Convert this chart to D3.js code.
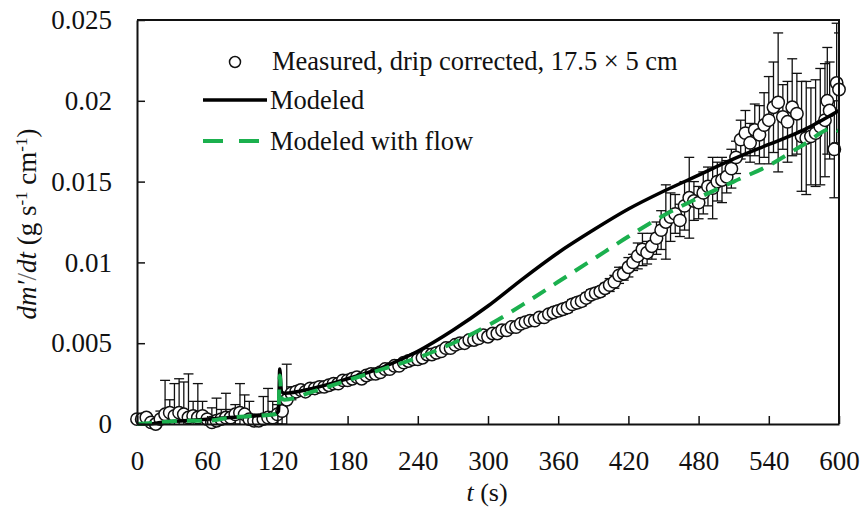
<!doctype html>
<html>
<head>
<style>
  body { margin: 0; background: #fff; }
  text { font-family: "Liberation Serif", "Times New Roman", serif; fill: #111; }
</style>
<script src="https://d3js.org/d3.v7.min.js"></script>
</head>
<body>
<svg width="866" height="508"></svg>
<script>
// measured points: time (s), dm'/dt, error bar half-height
var measTime = [0,4,8,12,16,20,24,28,32,36,40,44,48,52,56,60,64,68,72,76,80,84,88,92,96,100,104,108,112,116,120,124,128,132,136,140,144,148,152,156,160,164,168,172,176,180,184,188,192,196,200,204,208,212,216,220,224,228,232,236,240,244,248,252,256,260,264,268,272,276,280,284,288,292,296,300,304,308,312,316,320,324,328,332,336,340,344,348,352,356,360,364,368,372,376,380,384,388,392,396,400,404,408,412,416,420,424,428,432,436,440,444,448,452,456,460,464,468,472,476,480,484,488,492,496,500,504,508,512,516,520,524,528,532,536,540,544,548,552,556,560,564,568,572,576,580,584,588,590,592,596,598,600];
var measValue = [0.0003,0.0003,0.0004,0.0001,0.0000,0.0003,0.0006,0.0007,0.0005,0.0007,0.0006,0.0004,0.0005,0.0004,0.0005,0.0003,0.0001,0.0002,0.0003,0.0004,0.0004,0.0006,0.0007,0.0006,0.0003,0.0002,0.0002,0.0003,0.0004,0.0004,0.0006,0.0008,0.0015,0.0019,0.0020,0.0021,0.0020,0.0022,0.0022,0.0023,0.0023,0.0024,0.0025,0.0025,0.0027,0.0027,0.0028,0.0029,0.0028,0.0030,0.0031,0.0031,0.0032,0.0034,0.0034,0.0036,0.0036,0.0038,0.0039,0.0040,0.0040,0.0041,0.0043,0.0043,0.0044,0.0045,0.0047,0.0047,0.0049,0.0050,0.0050,0.0052,0.0052,0.0053,0.0055,0.0054,0.0056,0.0056,0.0058,0.0058,0.0060,0.0060,0.0062,0.0063,0.0064,0.0064,0.0066,0.0066,0.0068,0.0069,0.0070,0.0071,0.0072,0.0074,0.0075,0.0076,0.0078,0.0080,0.0081,0.0082,0.0084,0.0086,0.0088,0.0092,0.0093,0.0097,0.0100,0.0104,0.0108,0.0106,0.0110,0.0115,0.0120,0.0125,0.0128,0.0130,0.0126,0.0135,0.0140,0.0138,0.0137,0.0143,0.0147,0.0146,0.0150,0.0151,0.0153,0.0158,0.0165,0.0176,0.0180,0.0174,0.0182,0.0179,0.0185,0.0188,0.0196,0.0199,0.0190,0.0187,0.0196,0.0192,0.0178,0.0177,0.0178,0.0180,0.0184,0.0188,0.0200,0.0194,0.0170,0.0211,0.0207];
var measError = [0,0,0,0,0,0.0005,0.0021,0.0008,0.0020,0.0021,0.0020,0.0027,0.0009,0.0021,0.0009,0.0002,0.0009,0.0014,0.0006,0.0015,0.0005,0.0006,0.0018,0.0012,0.0011,0.0004,0.0004,0.0014,0.0018,0.0010,0.0006,0.0008,0.0022,0.0004,0.0003,0.0003,0.0002,0.0002,0.0002,0.0002,0.0002,0.0002,0.0002,0.0002,0.0002,0.0002,0.0002,0.0002,0.0002,0.0002,0.0002,0.0002,0.0002,0.0002,0.0002,0.0002,0.0002,0.0002,0.0002,0.0002,0.0002,0.0002,0.0002,0.0002,0.0002,0.0002,0.0002,0.0002,0.0002,0.0002,0.0002,0.0002,0.0002,0.0002,0.0002,0.0002,0.0002,0.0002,0.0002,0.0002,0.0002,0.0002,0.0002,0.0002,0.0002,0.0002,0.0002,0.0002,0.0002,0.0002,0.0003,0.0003,0.0003,0.0003,0.0003,0.0003,0.0003,0.0003,0.0003,0.0003,0.0003,0.0004,0.0004,0.0005,0.0004,0.0006,0.0005,0.0008,0.0010,0.0007,0.0008,0.0010,0.0012,0.0023,0.0015,0.0012,0.0010,0.0015,0.0025,0.0012,0.0010,0.0013,0.0012,0.0019,0.0012,0.0014,0.0010,0.0012,0.0010,0.0012,0.0014,0.0012,0.0016,0.0018,0.0020,0.0027,0.0028,0.0043,0.0020,0.0025,0.0030,0.0025,0.0034,0.0035,0.0030,0.0033,0.0036,0.0035,0.0033,0.0030,0.0030,0.0037,0.0035];

// modeled curves
var modelTime = [0,10,20,40,60,80,100,118,121,122,123.5,126,150,180,210,240,270,300,330,360,390,420,450,480,510,540,570,600];
var modeled   = [0.0000,0.0000,0.0001,0.0002,0.0003,0.0004,0.0005,0.0006,0.0008,0.0034,0.0020,0.0019,0.0022,0.0028,0.0035,0.0045,0.0058,0.0073,0.0090,0.0106,0.0120,0.0133,0.0144,0.0154,0.0164,0.0173,0.0182,0.0194];
var flowTime  = [0,20,40,60,80,100,118,121,122,123.5,126,150,180,210,240,270,300,330,360,390,420,450,480,510,540,570,595,600];
var modeledFlow = [0.0000,0.0001,0.0002,0.0002,0.0004,0.0005,0.0006,0.0008,0.0030,0.0016,0.0015,0.0020,0.0027,0.0034,0.0041,0.0050,0.0061,0.0074,0.0088,0.0102,0.0116,0.0129,0.0140,0.0150,0.0160,0.0173,0.0183,0.0181];

var xTicks = [0,60,120,180,240,300,360,420,480,540,600];
var yTicks = [0,0.005,0.01,0.015,0.02,0.025];

var svg = d3.select("svg");
var pl = 137, pr = 839, pt = 20, pb = 424;
var green = "#1bb04e";

var x = d3.scaleLinear().domain([0, 600]).range([pl, pr]);
var y = d3.scaleLinear().domain([0, 0.025]).range([pb, pt]);

svg.append("clipPath").attr("id", "plot")
   .append("rect").attr("x", pl).attr("y", pt)
   .attr("width", pr - pl).attr("height", pb - pt);

var meas = measTime.map(function(t, i) { return {t: t, v: measValue[i], e: measError[i]}; });

// error bars
var eb = svg.append("g").attr("clip-path", "url(#plot)")
   .attr("stroke", "#111").attr("stroke-width", 1.3);
meas.filter(function(d) { return d.e > 0; }).forEach(function(d) {
    var cx = x(d.t), y1 = y(d.v + d.e), y2 = y(d.v - d.e);
    eb.append("line").attr("x1", cx).attr("x2", cx).attr("y1", y1).attr("y2", y2);
    eb.append("line").attr("x1", cx - 5).attr("x2", cx + 5).attr("y1", y1).attr("y2", y1);
    eb.append("line").attr("x1", cx - 5).attr("x2", cx + 5).attr("y1", y2).attr("y2", y2);
});

svg.append("g").selectAll("circle")
   .data(meas).enter().append("circle")
   .attr("cx", function(d) { return x(d.t); })
   .attr("cy", function(d) { return y(d.v); })
   .attr("r", 6.2)
   .attr("fill", "#fff").attr("stroke", "#111").attr("stroke-width", 1.5);

var line = d3.line()
   .x(function(d) { return x(d[0]); })
   .y(function(d) { return y(d[1]); })
   .curve(d3.curveMonotoneX);

svg.append("path")
   .datum(modelTime.map(function(t, i) { return [t, modeled[i]]; }))
   .attr("d", line).attr("fill", "none")
   .attr("stroke", "#000").attr("stroke-width", 3.5);

svg.append("path")
   .datum(flowTime.map(function(t, i) { return [t, modeledFlow[i]]; }))
   .attr("d", line).attr("fill", "none")
   .attr("stroke", green).attr("stroke-width", 4)
   .attr("stroke-dasharray", "15,10");

// axes
var xAxis = svg.append("g").attr("transform", "translate(0," + pb + ")")
   .call(d3.axisBottom(x).tickValues(xTicks).tickSizeInner(-8).tickSizeOuter(0).tickPadding(27)
   .tickFormat(d3.format("d")));
var yAxis = svg.append("g").attr("transform", "translate(" + pl + ",0)")
   .call(d3.axisLeft(y).tickValues(yTicks).tickSizeInner(-8).tickSizeOuter(0).tickPadding(25)
   .tickFormat(function(d) { return d === 0 ? "0" : String(+d.toFixed(3)); }));
[xAxis, yAxis].forEach(function(a) {
    a.selectAll("text").style("font-size", "27px").attr("fill", "#222");
    a.selectAll("line").attr("stroke", "#111").attr("stroke-width", 1.5);
    a.select(".domain").attr("stroke", "#111").attr("stroke-width", 2);
});
svg.append("path")
   .attr("d", "M" + pl + "," + pt + "H" + pr + "V" + pb)
   .attr("fill", "none").attr("stroke", "#111").attr("stroke-width", 2);

// legend
var lg = svg.append("g").style("font-size", "26.5px");
lg.append("circle").attr("cx", 235).attr("cy", 62).attr("r", 5.5)
  .attr("fill", "#fff").attr("stroke", "#111").attr("stroke-width", 1.5);
lg.append("text").attr("x", 272).attr("y", 70).text("Measured, drip corrected, 17.5 \u00d7 5 cm");
lg.append("line").attr("x1", 203).attr("x2", 267).attr("y1", 100).attr("y2", 100)
  .attr("stroke", "#000").attr("stroke-width", 3.5);
lg.append("text").attr("x", 270).attr("y", 109).text("Modeled");
lg.append("line").attr("x1", 203).attr("x2", 260).attr("y1", 141).attr("y2", 141)
  .attr("stroke", green).attr("stroke-width", 4).attr("stroke-dasharray", "20,16");
lg.append("text").attr("x", 270).attr("y", 150).text("Modeled with flow");

// axis titles
var yt = svg.append("text").attr("transform", "translate(36,224) rotate(-90)")
   .attr("text-anchor", "middle").style("font-size", "27px");
yt.append("tspan").style("font-style", "italic").text("dm\u2032");
yt.append("tspan").attr("fill", "#666").text("/");
yt.append("tspan").style("font-style", "italic").text("dt");
yt.append("tspan").text(" (g s");
yt.append("tspan").attr("baseline-shift", "super").style("font-size", "17px").text("-1");
yt.append("tspan").text(" cm");
yt.append("tspan").attr("baseline-shift", "super").style("font-size", "17px").text("-1");
yt.append("tspan").text(")");

var xt = svg.append("text").attr("x", 487).attr("y", 501)
   .attr("text-anchor", "middle").style("font-size", "26px");
xt.append("tspan").style("font-style", "italic").text("t");
xt.append("tspan").text(" (s)");
</script>
</body>
</html>
